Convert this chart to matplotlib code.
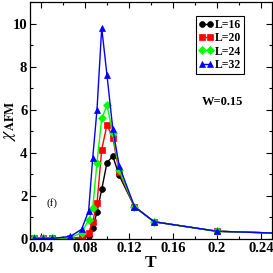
import matplotlib
matplotlib.use("Agg")
import matplotlib.pyplot as plt
from matplotlib.ticker import MultipleLocator

plt.rcParams["mathtext.fontset"] = "stix"

T = [0.0333, 0.0417, 0.05, 0.0667, 0.0769, 0.0833, 0.087, 0.0909, 0.0952,
     0.1, 0.1053, 0.1111, 0.125, 0.1429, 0.2, 0.3]

chi_L16 = [0.03, 0.03, 0.03, 0.04, 0.05, 0.15, 0.5, 1.26, 2.3,
           3.55, 3.84, 2.95, 1.5, 0.8, 0.36, 0.2]
chi_L20 = [0.03, 0.03, 0.03, 0.04, 0.08, 0.3, 0.8, 1.65, 4.15,
           5.3, 4.7, 3.1, 1.5, 0.8, 0.36, 0.2]
chi_L24 = [0.03, 0.03, 0.03, 0.05, 0.3, 0.88, 1.42, 3.55, 5.6,
           6.2, 4.9, 3.2, 1.5, 0.8, 0.36, 0.2]
chi_L32 = [0.03, 0.03, 0.03, 0.12, 0.45, 1.3, 3.75, 6.0, 9.8,
           7.6, 5.1, 3.4, 1.5, 0.8, 0.36, 0.2]

labels = ["L=16", "L=20", "L=24", "L=32"]
colors = ["#000000", "#ff0000", "#00ff00", "#0000ff"]
markers = ["o", "s", "D", "^"]
msizes = [4.2, 4.0, 4.0, 5.0]

serif = ["Liberation Serif", "DejaVu Serif"]

fig = plt.figure(figsize=(2.73, 2.73), dpi=100)
ax = fig.add_axes([0.11, 0.1245, 0.886, 0.868])

for y, lab, c, m, ms in zip([chi_L16, chi_L20, chi_L24, chi_L32], labels, colors, markers, msizes):
    ax.plot(T, y, color=c, marker=m, markersize=ms, linewidth=1.0,
            markeredgewidth=0.5, markeredgecolor=c, label=lab)

ax.set_xlim(0.03, 0.25)
ax.set_ylim(0, 11)
ax.xaxis.set_minor_locator(MultipleLocator(0.02))
ax.yaxis.set_major_locator(MultipleLocator(2))
ax.yaxis.set_minor_locator(MultipleLocator(1))
ax.set_xticks([0.04, 0.08, 0.12, 0.16, 0.2, 0.24])
ax.set_xticklabels(["0.04", "0.08", "0.12", "0.16", "0.2", "0.24"])
ax.tick_params(which="both", direction="in", top=True, right=True, width=0.8)
ax.tick_params(which="major", length=4, pad=2)
ax.tick_params(which="minor", length=2)
for lab in ax.get_xticklabels() + ax.get_yticklabels():
    lab.set_fontfamily(serif)
    lab.set_fontweight("bold")
    lab.set_fontsize(10.5)
for s in ax.spines.values():
    s.set_linewidth(0.9)

ax.set_xlabel("T", family=serif, fontweight="bold", fontsize=12.5, labelpad=0)
ax.set_ylabel(r"$\chi_{\mathbf{AFM}}$", fontsize=13, va="center")
ax.yaxis.set_label_coords(-0.085, 0.5)

leg = ax.legend(loc="upper right", bbox_to_anchor=(0.885, 0.94), frameon=True,
                fancybox=False, edgecolor="black", framealpha=1,
                prop={"family": serif, "weight": "bold", "size": 8.5},
                numpoints=2, handlelength=1.25, handletextpad=0.1,
                labelspacing=0.1, borderpad=0.25, borderaxespad=0)
leg.get_frame().set_linewidth(0.8)

ax.text(0.795, 0.58, "W=0.15", transform=ax.transAxes, family=serif,
        fontweight="bold", fontsize=9, ha="center", va="center")
ax.text(0.09, 0.152, "(f)", transform=ax.transAxes, family=serif,
        fontsize=8, ha="center", va="center")

fig.savefig("out.png", dpi=100)
